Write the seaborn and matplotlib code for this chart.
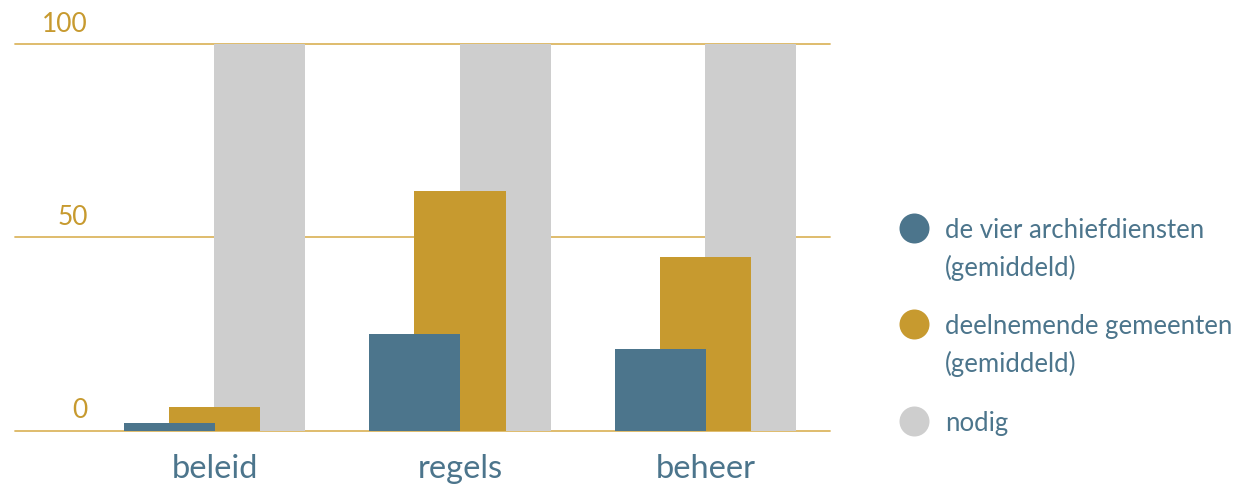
import numpy as np
import pandas as pd
import matplotlib
matplotlib.use("Agg")
import matplotlib.pyplot as plt
from matplotlib.lines import Line2D
from matplotlib.transforms import ScaledTranslation
import seaborn as sns

categories = ["beleid", "regels", "beheer"]
series_names = ["de vier archiefdiensten\n(gemiddeld)",
                "deelnemende gemeenten\n(gemiddeld)",
                "nodig"]
archiefdiensten = [2, 25, 21]
gemeenten = [6, 62, 45]
nodig = [100, 100, 100]
y_ticks = [0, 50, 100]

BLUE = "#4c758c"
GOLD = "#c79a2f"
GREY = "#cecece"
GRID = "#dcb661"

sns.set_theme(style="white")
plt.rcParams["font.family"] = ["Lato", "DejaVu Sans"]

W, H = 1248, 486
fig = plt.figure(figsize=(W / 100, H / 100), dpi=100)
ax = fig.add_axes([15 / W, (H - 430.5) / H, (830 - 15) / W, 386.5 / H])

pos = np.arange(len(categories))
step = 0.185   # shift between overlapping bars
bar_w = 0.371

# back to front: grey, gold, blue
layers = [(nodig, step, GREY, 1), (gemeenten, 0.0, GOLD, 2), (archiefdiensten, -step, BLUE, 3)]
for values, shift, col, z in layers:
    df = pd.DataFrame({"x": pos + shift, "y": values})
    sns.barplot(data=df, x="x", y="y", native_scale=True, width=bar_w,
                color=col, saturation=1, ax=ax, zorder=z, linewidth=0)

for yv in y_ticks:
    ax.axhline(yv, color=GRID, lw=1.3, zorder=0.5, clip_on=False)

ax.set_xlim((15 - 214.5) / 245.5, (830 - 214.5) / 245.5)
ax.set_ylim(0, 100)
sns.despine(ax=ax, left=True, bottom=True)
ax.grid(False)

ax.set_xticks(pos)
ax.set_xticklabels(categories, fontsize=23.5, color=BLUE)
ax.tick_params(axis="x", length=0, pad=17)

ax.set_yticks(y_ticks)
ax.set_yticklabels([str(v) for v in y_ticks], fontsize=19, color=GOLD)
ax.tick_params(axis="y", length=0, pad=-52.5)
for lbl in ax.get_yticklabels():
    lbl.set_horizontalalignment("right")
    lbl.set_transform(lbl.get_transform() + ScaledTranslation(0, 16 / 72, fig.dpi_scale_trans))
ax.set_xlabel("")
ax.set_ylabel("")

# legend: dot aligned with the first line of each label
marker_y = [228, 324, 421]
for name, col, my in zip(series_names, (BLUE, GOLD, GREY), marker_y):
    fig.add_artist(Line2D([914 / W], [1 - my / H], marker="o", markersize=21.6,
                          markerfacecolor=col, markeredgewidth=0, linestyle="",
                          transform=fig.transFigure))
    fig.text(945 / W, 1 - (my - 10) / H, name, fontsize=18.5, color=BLUE,
             ha="left", va="top", linespacing=1.55)

fig.savefig("out.png", dpi=100)
